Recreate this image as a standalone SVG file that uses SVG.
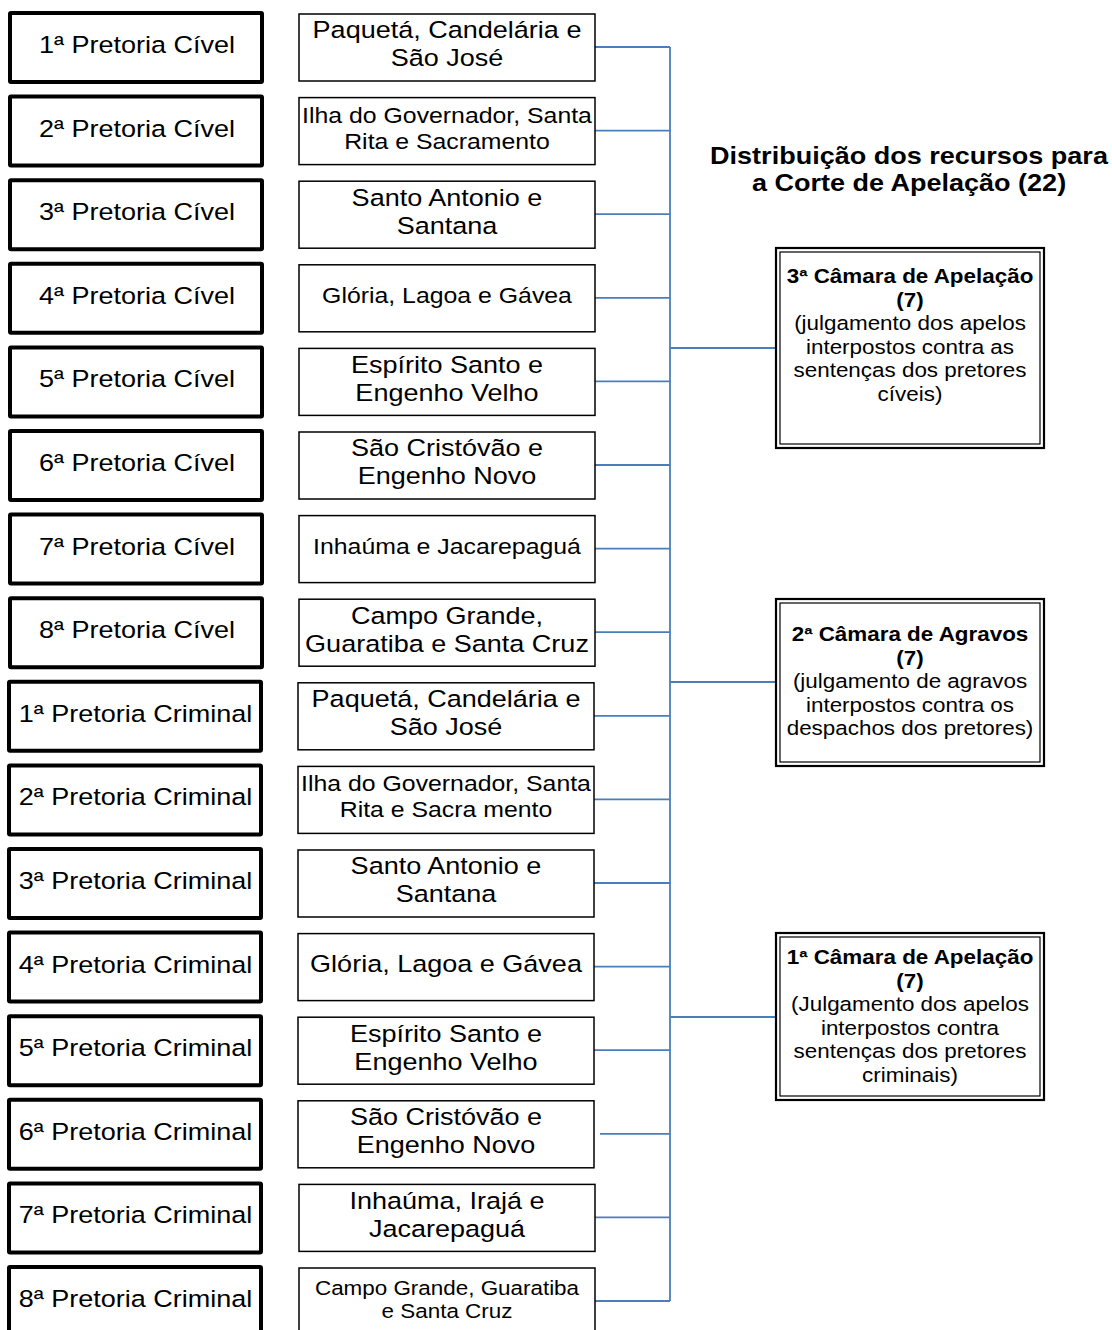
<svg xmlns="http://www.w3.org/2000/svg" width="1112" height="1330" viewBox="0 0 1112 1330">
<style>
text{font-family:"Liberation Sans",Arial,sans-serif;text-anchor:middle;fill:#000}
.t{font-size:23.5px}
.s{font-size:21.6px}
.xs{font-size:19.5px}
.b{font-weight:bold}
.lb{fill:#fff;stroke:#000;stroke-width:4;rx:1}
.mb{fill:#fff;stroke:#000;stroke-width:1.5}
.ro{fill:#fff;stroke:#000;stroke-width:2.2}
.ri{fill:none;stroke:#000;stroke-width:1.2}
.c{stroke:#4a7ebb;stroke-width:1.8;fill:none}
</style>
<rect width="1112" height="1330" fill="#fff"/>
<g id="connectors">
<path class="c" d="M670 47V1301"/>
<path class="c" d="M595 47H670M595 130.6H670M595 214.2H670M595 297.8H670M595 381.4H670M595 465H670M595 548.6H670M595 632.2H670M594 715.8H670M594 799.4H670M594 883H670M594 966.6H670M594 1050.2H670M600 1133.8H670M595 1217.4H670M595 1301H670"/>
<path class="c" d="M670 348H776M670 682H776M670 1017H776"/>
</g>
<g id="title">
<text class="t b" transform="translate(909,163.5) scale(1.15,1)"><tspan x="0" y="0">Distribuição dos recursos para</tspan><tspan x="0" y="28">a Corte de Apelação (22)</tspan></text>
</g>
<g id="pc1"><rect class="lb" x="10" y="13" width="252" height="69"/><text class="t" transform="translate(137,53) scale(1.15,1)">1ª Pretoria Cível</text></g>
<g id="pc2"><rect class="lb" x="10" y="96.6" width="252" height="69"/><text class="t" transform="translate(137,136.6) scale(1.15,1)">2ª Pretoria Cível</text></g>
<g id="pc3"><rect class="lb" x="10" y="180.2" width="252" height="69"/><text class="t" transform="translate(137,220.2) scale(1.15,1)">3ª Pretoria Cível</text></g>
<g id="pc4"><rect class="lb" x="10" y="263.8" width="252" height="69"/><text class="t" transform="translate(137,303.8) scale(1.15,1)">4ª Pretoria Cível</text></g>
<g id="pc5"><rect class="lb" x="10" y="347.4" width="252" height="69"/><text class="t" transform="translate(137,387.4) scale(1.15,1)">5ª Pretoria Cível</text></g>
<g id="pc6"><rect class="lb" x="10" y="431" width="252" height="69"/><text class="t" transform="translate(137,471) scale(1.15,1)">6ª Pretoria Cível</text></g>
<g id="pc7"><rect class="lb" x="10" y="514.6" width="252" height="69"/><text class="t" transform="translate(137,554.6) scale(1.15,1)">7ª Pretoria Cível</text></g>
<g id="pc8"><rect class="lb" x="10" y="598.2" width="252" height="69"/><text class="t" transform="translate(137,638.2) scale(1.15,1)">8ª Pretoria Cível</text></g>
<g id="pr1"><rect class="lb" x="9" y="681.8" width="252" height="69"/><text class="t" transform="translate(135.5,721.8) scale(1.15,1)">1ª Pretoria Criminal</text></g>
<g id="pr2"><rect class="lb" x="9" y="765.4" width="252" height="69"/><text class="t" transform="translate(135.5,805.4) scale(1.15,1)">2ª Pretoria Criminal</text></g>
<g id="pr3"><rect class="lb" x="9" y="849" width="252" height="69"/><text class="t" transform="translate(135.5,889) scale(1.15,1)">3ª Pretoria Criminal</text></g>
<g id="pr4"><rect class="lb" x="9" y="932.6" width="252" height="69"/><text class="t" transform="translate(135.5,972.6) scale(1.15,1)">4ª Pretoria Criminal</text></g>
<g id="pr5"><rect class="lb" x="9" y="1016.2" width="252" height="69"/><text class="t" transform="translate(135.5,1056.2) scale(1.15,1)">5ª Pretoria Criminal</text></g>
<g id="pr6"><rect class="lb" x="9" y="1099.8" width="252" height="69"/><text class="t" transform="translate(135.5,1139.8) scale(1.15,1)">6ª Pretoria Criminal</text></g>
<g id="pr7"><rect class="lb" x="9" y="1183.4" width="252" height="69"/><text class="t" transform="translate(135.5,1223.4) scale(1.15,1)">7ª Pretoria Criminal</text></g>
<g id="pr8"><rect class="lb" x="9" y="1267" width="252" height="69"/><text class="t" transform="translate(135.5,1307) scale(1.15,1)">8ª Pretoria Criminal</text></g>
<g id="m1"><rect class="mb" x="299" y="14" width="296" height="67"/><text class="t" transform="translate(447,38.4) scale(1.15,1)"><tspan x="0" y="0">Paquetá, Candelária e</tspan><tspan x="0" y="28">São José</tspan></text></g>
<g id="m2"><rect class="mb" x="299" y="97.6" width="296" height="67"/><text class="s" transform="translate(447,122.6) scale(1.15,1)"><tspan x="0" y="0">Ilha do Governador, Santa</tspan><tspan x="0" y="26">Rita e Sacramento</tspan></text></g>
<g id="m3"><rect class="mb" x="299" y="181.2" width="296" height="67"/><text class="t" transform="translate(447,205.6) scale(1.15,1)"><tspan x="0" y="0">Santo Antonio e</tspan><tspan x="0" y="28">Santana</tspan></text></g>
<g id="m4"><rect class="mb" x="299" y="264.8" width="296" height="67"/><text class="s" transform="translate(447,303) scale(1.15,1)">Glória, Lagoa e Gávea</text></g>
<g id="m5"><rect class="mb" x="299" y="348.4" width="296" height="67"/><text class="t" transform="translate(447,372.8) scale(1.15,1)"><tspan x="0" y="0">Espírito Santo e</tspan><tspan x="0" y="28">Engenho Velho</tspan></text></g>
<g id="m6"><rect class="mb" x="299" y="432" width="296" height="67"/><text class="t" transform="translate(447,456.4) scale(1.15,1)"><tspan x="0" y="0">São Cristóvão e</tspan><tspan x="0" y="28">Engenho Novo</tspan></text></g>
<g id="m7"><rect class="mb" x="299" y="515.6" width="296" height="67"/><text class="s" transform="translate(447,553.8) scale(1.15,1)">Inhaúma e Jacarepaguá</text></g>
<g id="m8"><rect class="mb" x="299" y="599.2" width="296" height="67"/><text class="t" transform="translate(447,623.6) scale(1.15,1)"><tspan x="0" y="0">Campo Grande,</tspan><tspan x="0" y="28">Guaratiba e Santa Cruz</tspan></text></g>
<g id="m9"><rect class="mb" x="298" y="682.8" width="296" height="67"/><text class="t" transform="translate(446,707.2) scale(1.15,1)"><tspan x="0" y="0">Paquetá, Candelária e</tspan><tspan x="0" y="28">São José</tspan></text></g>
<g id="m10"><rect class="mb" x="298" y="766.4" width="296" height="67"/><text class="s" transform="translate(446,791.4) scale(1.15,1)"><tspan x="0" y="0">Ilha do Governador, Santa</tspan><tspan x="0" y="26">Rita e Sacra mento</tspan></text></g>
<g id="m11"><rect class="mb" x="298" y="850" width="296" height="67"/><text class="t" transform="translate(446,874.4) scale(1.15,1)"><tspan x="0" y="0">Santo Antonio e</tspan><tspan x="0" y="28">Santana</tspan></text></g>
<g id="m12"><rect class="mb" x="298" y="933.6" width="296" height="67"/><text class="t" transform="translate(446,971.6) scale(1.15,1)">Glória, Lagoa e Gávea</text></g>
<g id="m13"><rect class="mb" x="298" y="1017.2" width="296" height="67"/><text class="t" transform="translate(446,1041.6) scale(1.15,1)"><tspan x="0" y="0">Espírito Santo e</tspan><tspan x="0" y="28">Engenho Velho</tspan></text></g>
<g id="m14"><rect class="mb" x="298" y="1100.8" width="296" height="67"/><text class="t" transform="translate(446,1125.2) scale(1.15,1)"><tspan x="0" y="0">São Cristóvão e</tspan><tspan x="0" y="28">Engenho Novo</tspan></text></g>
<g id="m15"><rect class="mb" x="299" y="1184.4" width="296" height="67"/><text class="t" transform="translate(447,1208.8) scale(1.15,1)"><tspan x="0" y="0">Inhaúma, Irajá e</tspan><tspan x="0" y="28">Jacarepaguá</tspan></text></g>
<g id="m16"><rect class="mb" x="299" y="1268" width="296" height="67"/><text class="xs" transform="translate(447,1295) scale(1.15,1)"><tspan x="0" y="0">Campo Grande, Guaratiba</tspan><tspan x="0" y="23">e Santa Cruz</tspan></text></g>
<g id="cam3">
<rect class="ro" x="776" y="248" width="268" height="200"/><rect class="ri" x="780" y="252" width="260" height="192"/>
<text class="xs" transform="translate(910,283) scale(1.15,1)"><tspan class="b" x="0" y="0">3ª Câmara de Apelação</tspan><tspan class="b" x="0" y="23.6">(7)</tspan><tspan x="0" y="47.2">(julgamento dos apelos</tspan><tspan x="0" y="70.8">interpostos contra as</tspan><tspan x="0" y="94.4">sentenças dos pretores</tspan><tspan x="0" y="118">cíveis)</tspan></text>
</g>
<g id="cam2">
<rect class="ro" x="776" y="599" width="268" height="167"/><rect class="ri" x="780" y="603" width="260" height="159"/>
<text class="xs" transform="translate(910,641) scale(1.15,1)"><tspan class="b" x="0" y="0">2ª Câmara de Agravos</tspan><tspan class="b" x="0" y="23.6">(7)</tspan><tspan x="0" y="47.2">(julgamento de agravos</tspan><tspan x="0" y="70.8">interpostos contra os</tspan><tspan x="0" y="94.4">despachos dos pretores)</tspan></text>
</g>
<g id="cam1">
<rect class="ro" x="776" y="933" width="268" height="167"/><rect class="ri" x="780" y="937" width="260" height="159"/>
<text class="xs" transform="translate(910,964) scale(1.15,1)"><tspan class="b" x="0" y="0">1ª Câmara de Apelação</tspan><tspan class="b" x="0" y="23.6">(7)</tspan><tspan x="0" y="47.2">(Julgamento dos apelos</tspan><tspan x="0" y="70.8">interpostos contra</tspan><tspan x="0" y="94.4">sentenças dos pretores</tspan><tspan x="0" y="118">criminais)</tspan></text>
</g>
</svg>
